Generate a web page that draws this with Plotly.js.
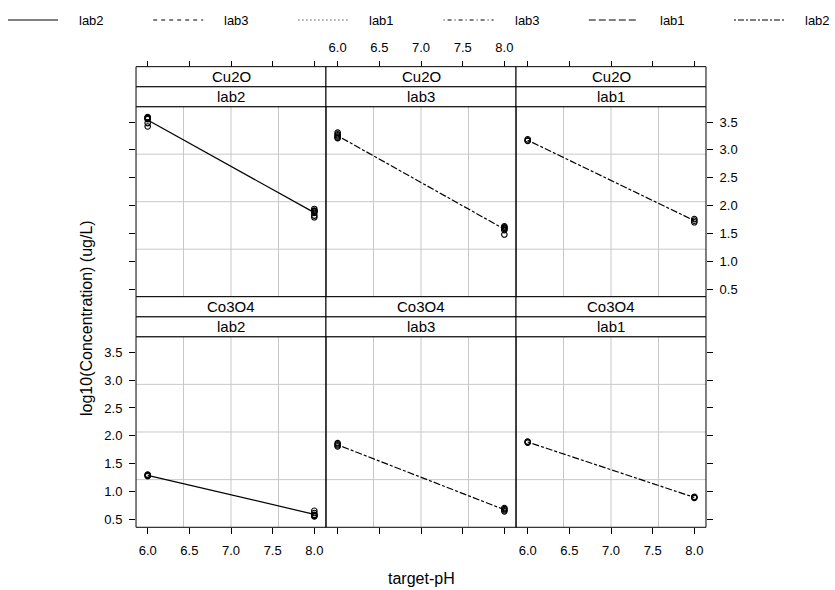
<!DOCTYPE html>
<html><head><meta charset="utf-8">
<script src="https://cdn.plot.ly/plotly-3.0.1.min.js"></script>
<style>html,body{margin:0;padding:0;background:#fff}#chart{width:835px;height:590px}</style>
</head><body><div id="chart"></div>
<script>
// ---------- data ----------
const compounds = ["Cu2O", "Co3O4"];
const labs = ["lab2", "lab3", "lab1"];
const targetPH = [6, 8];
const xTickVals = [6, 6.5, 7, 7.5, 8];
const xTickText = ["6.0", "6.5", "7.0", "7.5", "8.0"];
const yTickVals = [0.5, 1, 1.5, 2, 2.5, 3, 3.5];
const yTickText = ["0.5", "1.0", "1.5", "2.0", "2.5", "3.0", "3.5"];

const cu2oLab2pH6 = [3.59, 3.58, 3.57, 3.56, 3.55, 3.48, 3.42];
const cu2oLab2pH8 = [1.94, 1.91, 1.90, 1.89, 1.87, 1.82, 1.79];
const cu2oLab3pH6 = [3.31, 3.28, 3.26, 3.24, 3.22, 3.21];
const cu2oLab3pH8 = [1.63, 1.61, 1.60, 1.58, 1.56, 1.48];
const cu2oLab1pH6 = [3.19, 3.17, 3.16];
const cu2oLab1pH8 = [1.76, 1.73, 1.70];
const co3o4Lab2pH6 = [1.31, 1.30, 1.29, 1.28];
const co3o4Lab2pH8 = [0.66, 0.62, 0.59, 0.58, 0.57, 0.56];
const co3o4Lab3pH6 = [1.87, 1.85, 1.83, 1.81];
const co3o4Lab3pH8 = [0.71, 0.69, 0.67, 0.65];
const co3o4Lab1pH6 = [1.90, 1.89, 1.88];
const co3o4Lab1pH8 = [0.91, 0.90, 0.89];

const legendLabels = ["lab2", "lab3", "lab1", "lab3", "lab1", "lab2"];

// ---------- styles ----------
const FONT = "Liberation Sans, Arial, sans-serif";
const legendDashes = ["solid", "4px,4px", "1px,3px", "1px,3px,4px,3px", "7px,3px", "2px,2px,6px,2px"];
const panelDash = {lab2: "solid", lab3: "3px,2px,7px,2px", lab1: "3px,2px,7px,2px"};
const colDom = [[0.1629, 0.3904], [0.3904, 0.6180], [0.6180, 0.8455]];
const rowDom = [[0.4971, 0.8192], [0.1063, 0.4293]];
const stripH = 0.0339;
const xRange = [5.86, 8.14];
const yRange = [0.365, 3.775];
const W = 835, H = 590;

const panelData = [
  [[cu2oLab2pH6, cu2oLab2pH8], [cu2oLab3pH6, cu2oLab3pH8], [cu2oLab1pH6, cu2oLab1pH8]],
  [[co3o4Lab2pH6, co3o4Lab2pH8], [co3o4Lab3pH6, co3o4Lab3pH8], [co3o4Lab1pH6, co3o4Lab1pH8]]
];
const mean = a => a.reduce((s, v) => s + v, 0) / a.length;

const traces = [];
const layout = {
  width: W, height: H,
  margin: {l: 0, r: 0, t: 0, b: 0},
  paper_bgcolor: "#fff", plot_bgcolor: "rgba(0,0,0,0)",
  font: {family: FONT, color: "#000", size: 13},
  showlegend: false,
  shapes: [], annotations: []
};

for (let r = 0; r < 2; r++) {
  for (let c = 0; c < 3; c++) {
    const k = r * 3 + c + 1;
    const xa = "x" + k, ya = "y" + k;
    const vals = panelData[r][c];
    const xs = [], ys = [];
    vals.forEach((arr, i) => arr.forEach(v => { xs.push(targetPH[i]); ys.push(v); }));
    traces.push({x: xs, y: ys, xaxis: xa, yaxis: ya, type: "scatter", mode: "markers",
      name: compounds[r] + " " + labs[c], showlegend: false, hoverinfo: "x+y",
      marker: {symbol: "circle-open", size: 5.5, color: "#000", line: {width: 1.1, color: "#000"}}});
    traces.push({x: targetPH, y: vals.map(mean), xaxis: xa, yaxis: ya, type: "scatter", mode: "lines",
      name: labs[c], showlegend: false, line: {color: "#000", width: 1.2, dash: panelDash[labs[c]]}});

    const xkey = "xaxis" + (k === 1 ? "" : k), ykey = "yaxis" + (k === 1 ? "" : k);
    const topRow = r === 0;
    const xAx = {domain: colDom[c], range: xRange, tickvals: xTickVals, ticktext: xTickText,
      ticks: "outside", ticklen: 6, tickcolor: "#000", showgrid: false, zeroline: false, showline: false,
      tickfont: {family: FONT, size: 13}, fixedrange: true};
    if (topRow) {
      Object.assign(xAx, {side: "top", anchor: "free", position: rowDom[0][1] + 2 * stripH,
        showticklabels: c === 1, ticklabelstandoff: 3});
    } else {
      Object.assign(xAx, {side: "bottom", anchor: ya, showticklabels: c !== 1, ticklabelstandoff: 5});
    }
    layout[xkey] = xAx;
    const yAx = {domain: rowDom[r], range: yRange, tickvals: yTickVals, ticktext: yTickText,
      anchor: xa, showgrid: false, zeroline: false, showline: false, ticklen: 6, tickcolor: "#000",
      tickfont: {family: FONT, size: 13}, fixedrange: true, ticklabelstandoff: 4};
    if (c === 0) Object.assign(yAx, {side: "left", ticks: "outside", showticklabels: !topRow});
    else if (c === 2) Object.assign(yAx, {side: "right", ticks: "outside", showticklabels: topRow});
    else Object.assign(yAx, {ticks: "", showticklabels: false});
    layout[ykey] = yAx;

    // grid (lattice panel.grid: equally spaced)
    [0.25, 0.5, 0.75].forEach(f => {
      layout.shapes.push({type: "line", xref: xa + " domain", yref: ya + " domain", x0: f, x1: f, y0: 0, y1: 1,
        line: {color: "#c8c8c8", width: 1}, layer: "below"});
      layout.shapes.push({type: "line", xref: xa + " domain", yref: ya + " domain", x0: 0, x1: 1, y0: f, y1: f,
        line: {color: "#c8c8c8", width: 1}, layer: "below"});
    });
    // panel border
    layout.shapes.push({type: "rect", xref: xa + " domain", yref: ya + " domain", x0: 0, x1: 1, y0: 0, y1: 1,
      line: {color: "#000", width: 1}});
    // strips
    const yTop = rowDom[r][1];
    layout.shapes.push({type: "rect", xref: xa + " domain", yref: "paper", x0: 0, x1: 1, y0: yTop, y1: yTop + stripH,
      line: {color: "#000", width: 1}, fillcolor: "#fff"});
    layout.shapes.push({type: "rect", xref: xa + " domain", yref: "paper", x0: 0, x1: 1, y0: yTop + stripH, y1: yTop + 2 * stripH,
      line: {color: "#000", width: 1}, fillcolor: "#fff"});
    layout.annotations.push({xref: xa + " domain", yref: "paper", x: 0.5, y: yTop + stripH / 2, text: labs[c],
      showarrow: false, font: {family: FONT, size: 15}, yanchor: "middle"});
    layout.annotations.push({xref: xa + " domain", yref: "paper", x: 0.5, y: yTop + 1.5 * stripH, text: compounds[r],
      showarrow: false, font: {family: FONT, size: 15}, yanchor: "middle"});
  }
}

// key (legend) drawn at the top, lattice style
const keyStart = 8, keyStep = 145.2, keyLine = 50, keyTextOff = 69, keyY = 20;
legendLabels.forEach((lab, i) => {
  const x0 = keyStart + i * keyStep;
  layout.shapes.push({type: "line", xref: "paper", yref: "paper", x0: x0 / W, x1: (x0 + keyLine) / W,
    y0: 1 - keyY / H, y1: 1 - keyY / H, line: {color: "#000", width: 1, dash: legendDashes[i]}});
  layout.annotations.push({xref: "paper", yref: "paper", x: (x0 + keyTextOff) / W, y: 1 - keyY / H, text: lab,
    showarrow: false, xanchor: "left", yanchor: "middle", font: {family: FONT, size: 13}});
});

// axis titles
layout.annotations.push({xref: "paper", yref: "paper", x: 86 / W, y: 1 - 318 / H, text: "log10(Concentration) (ug/L)",
  textangle: -90, showarrow: false, font: {family: FONT, size: 16}, xanchor: "center", yanchor: "middle"});
layout.annotations.push({xref: "paper", yref: "paper", x: 421 / W, y: 1 - 578 / H, text: "target-pH",
  showarrow: false, font: {family: FONT, size: 16}, xanchor: "center", yanchor: "middle"});

Plotly.newPlot("chart", traces, layout, {displayModeBar: false, responsive: false});
</script>
</body></html>
